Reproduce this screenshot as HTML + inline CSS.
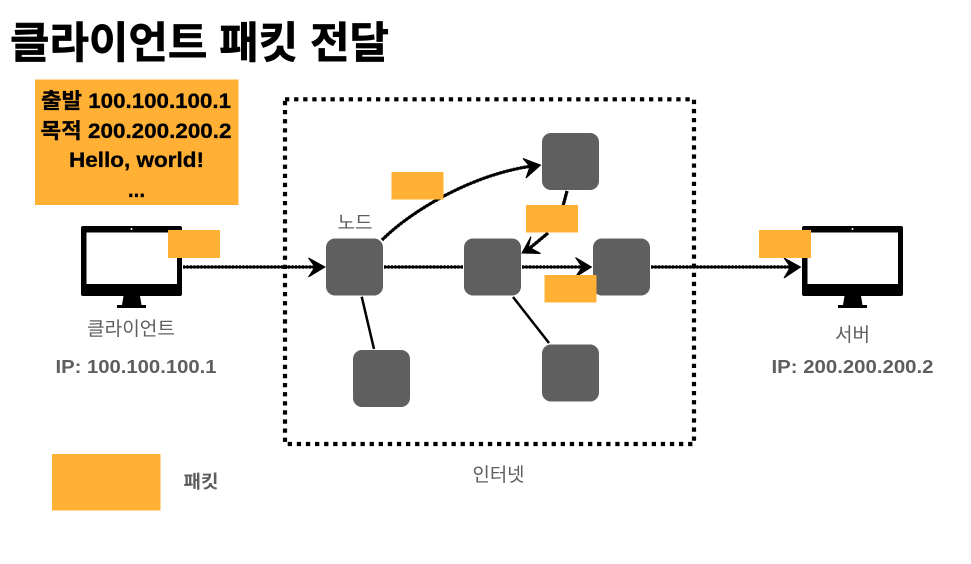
<!DOCTYPE html>
<html lang="ko"><head><meta charset="utf-8"><title>클라이언트 패킷 전달</title>
<style>
html,body{margin:0;padding:0;background:#fff;width:971px;height:564px;overflow:hidden}
svg{display:block}
text{font-family:"Liberation Sans","Noto Sans CJK KR",sans-serif}
.b{font-weight:700}
.g{fill:#5e5e5e}
</style></head><body>
<svg width="971" height="564" viewBox="0 0 971 564" xmlns="http://www.w3.org/2000/svg">
<rect x="0" y="0" width="971" height="564" fill="#fff"/>
<text class="b" x="10" y="58" font-size="43" textLength="379" lengthAdjust="spacingAndGlyphs" stroke="#000" stroke-width="0.7">클라이언트 패킷 전달</text>

<!-- internet boundary -->
<rect x="285" y="99.300" width="409" height="344.700" fill="none" stroke="#000" stroke-width="4.200" stroke-dasharray="4.300 4.800"/>

<!-- monitors -->
<g>
<rect x="81" y="226" width="101" height="70" rx="2" fill="#000"/>
<rect x="86.500" y="232.500" width="90.500" height="51.500" fill="#fff"/>
<circle cx="131.500" cy="229" r="1" fill="#fff"/>
<path d="M123.500 296H140L141.500 305H146V308H117V305H122Z" fill="#000"/>
</g>
<g>
<rect x="802" y="226" width="101" height="70" rx="2" fill="#000"/>
<rect x="807.500" y="232.500" width="90.500" height="51.500" fill="#fff"/>
<circle cx="852.500" cy="229" r="1" fill="#fff"/>
<path d="M844.500 296H861L862.500 305H867V308H838V305H843Z" fill="#000"/>
</g>

<!-- connectors: solid core -->
<g fill="none" stroke="#000" stroke-width="2.400">
<path d="M183 267H318"/>
<path d="M384 267H463"/>
<path d="M522 267H585"/>
<path d="M651 267H794"/>
</g>
<!-- connectors: serrated sketch edge -->
<g fill="none" stroke="#000" stroke-width="3.400" stroke-dasharray="2 1.500" opacity="0.85">
<path d="M183 267H318"/>
<path d="M384 267H463"/>
<path d="M522 267H585"/>
<path d="M651 267H794"/>
<path d="M382 240C410 212 470 175 532 166"/>
<path d="M567 191L563 206"/>
<path d="M548 233L530 248"/>
</g>
<g fill="none" stroke="#000">
<path d="M382 240C410 212 470 175 532 166" stroke-width="2.800"/>
<path d="M567 191L563 206" stroke-width="3"/>
<path d="M548 233L530 248" stroke-width="3"/>
<path d="M361.700 296.700L374 349" stroke-width="2.500"/>
<path d="M513 297L549 343" stroke-width="2.500"/>
</g>
<!-- arrowheads -->
<g fill="#000" stroke="#000" stroke-width="1" stroke-linejoin="miter">
<path d="M308.500 258L325 267L308.500 277L315 267Z"/>
<path d="M575.500 257.500L591.500 267L575.500 277L582 267Z"/>
<path d="M784 258L800.500 267L784 278L790.500 267Z"/>
<path d="M523 158.500L540.500 165L526 178L530 166.500Z"/>
<path d="M531 236.500L522 253L540.500 253.500L528.500 247Z"/>
</g>

<!-- nodes -->
<g fill="#5f5f5f">
<rect x="326" y="238.500" width="57" height="57" rx="9"/>
<rect x="542" y="133" width="57" height="57" rx="9"/>
<rect x="464" y="238.500" width="57" height="57" rx="9"/>
<rect x="593" y="238.500" width="57" height="57" rx="9"/>
<rect x="353" y="350" width="57" height="57" rx="9"/>
<rect x="542" y="344.500" width="57" height="57" rx="9"/>
</g>

<!-- packets -->
<g fill="#ffb035">
<rect x="35" y="79.500" width="203.500" height="125.500"/>
<rect x="168" y="230" width="52" height="28"/>
<rect x="391.500" y="172" width="52" height="27.500"/>
<rect x="526" y="205" width="52" height="27.500"/>
<rect x="544.500" y="275" width="52" height="27.500"/>
<rect x="759" y="230" width="52" height="28"/>
<rect x="52" y="454" width="108.500" height="56.500"/>
</g>

<!-- packet text -->
<g class="b" font-size="21" text-anchor="middle" stroke="#000" stroke-width="0.3">
<text x="136" y="108" textLength="190" lengthAdjust="spacingAndGlyphs">출발 100.100.100.1</text>
<text x="136" y="138" textLength="191" lengthAdjust="spacingAndGlyphs">목적 200.200.200.2</text>
<text x="136.500" y="167" textLength="135" lengthAdjust="spacingAndGlyphs">Hello, world!</text>
<text x="136.500" y="197" textLength="17" lengthAdjust="spacingAndGlyphs">...</text>
</g>

<!-- labels -->
<g class="g" text-anchor="middle">
<text x="131" y="335" font-size="19" textLength="88" lengthAdjust="spacingAndGlyphs">클라이언트</text>
<text class="b" x="136" y="373" font-size="18.500" textLength="161" lengthAdjust="spacingAndGlyphs">IP: 100.100.100.1</text>
<text x="355" y="229" font-size="19" textLength="35" lengthAdjust="spacingAndGlyphs">노드</text>
<text x="852.500" y="341" font-size="19" textLength="35" lengthAdjust="spacingAndGlyphs">서버</text>
<text class="b" x="852.500" y="373" font-size="18.500" textLength="162" lengthAdjust="spacingAndGlyphs">IP: 200.200.200.2</text>
<text x="498.500" y="481" font-size="19" textLength="52" lengthAdjust="spacingAndGlyphs">인터넷</text>
<text class="b" x="201" y="488" font-size="18" textLength="35" lengthAdjust="spacingAndGlyphs">패킷</text>
</g>
</svg>
</body></html>
